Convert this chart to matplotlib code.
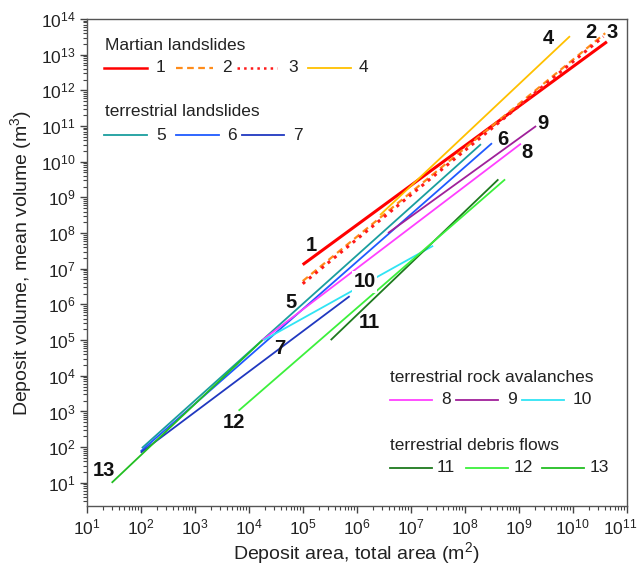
import matplotlib
matplotlib.use("Agg")
import matplotlib.pyplot as plt
import matplotlib.transforms as mtransforms
import numpy as np

plt.rcParams['font.family'] = ['Liberation Sans', 'DejaVu Sans']
plt.rcParams['mathtext.fontset'] = 'custom'
plt.rcParams['mathtext.rm'] = 'Liberation Sans'
plt.rcParams['mathtext.it'] = 'Liberation Sans:italic'
plt.rcParams['mathtext.bf'] = 'Liberation Sans:bold'

# ---- data (power-law fit lines: start/end points) ----
series_ids = ['1', '2', '3', '4', '5', '6', '7', '8', '9', '10', '11', '12', '13']
x_start = [1.0e5, 1.0e5, 1.0e5, 2.7e6, 1.05e2, 1.0e2, 1.0e2, 1.8e4, 3.8e6, 1.9e4, 3.3e5, 6.5e3, 29]
x_end   = [4.3e10, 4.0e10, 3.7e10, 8.9e9, 2.0e8, 3.2e8, 7.4e5, 1.1e9, 2.1e9, 2.6e7, 4.2e8, 5.6e8, 1.8e4]
y_start = [1.3e7, 4.5e6, 3.8e6, 3.2e8, 9.4e1, 7.6e1, 7.0e1, 1.0e5, 1.0e8, 1.0e5, 1.0e5, 1.05e3, 10]
y_end   = [2.3e13, 4.0e13, 3.2e13, 3.3e13, 3.1e10, 3.3e10, 1.7e6, 3.2e10, 1.0e11, 4.4e7, 3.2e9, 3.2e9, 1.0e5]

colors = ['#FF0000', '#FF8C1A', '#FF1A1A', '#FFC000', '#1A9E9E', '#1F5AFF', '#2038C0',
          '#FF40FF', '#A0209A', '#30E4F4', '#1E7A1E', '#3CF03C', '#22BE22']
styles = ['-', (0, (3, 2)), ':', '-', '-', '-', '-', '-', '-', '-', '-', '-', '-']
widths = [2.2, 1.6, 2.2, 1.3, 1.3, 1.3, 1.3, 1.3, 1.3, 1.3, 1.3, 1.3, 1.3]

# label positions in data coordinates for series numbers on plot
label_x = [1.43e5, 2.2e10, 5.4e10, 3.5e9, 6.0e4, 5.1e8, 3.8e4, 1.4e9, 2.8e9, 1.4e6, 1.7e6, 5.4e3, 2.1e1]
label_y = [4.4e7, 4.3e13, 4.1e13, 2.8e13, 1.1e6, 4.1e10, 6.0e4, 1.8e10, 1.2e11, 4.3e6, 3.2e5, 4.8e2, 2.2e1]

groups = [("Martian landslides", ['1', '2', '3', '4']),
          ("terrestrial landslides", ['5', '6', '7']),
          ("terrestrial rock avalanches", ['8', '9', '10']),
          ("terrestrial debris flows", ['11', '12', '13'])]

# ---- figure ----
W, H = 642, 566
fig = plt.figure(figsize=(W / 100, H / 100), dpi=100)
L, R, T, B = 86.7, 626.7, 19.0, 506.0
ax = fig.add_axes([L / W, 1 - B / H, (R - L) / W, (B - T) / H])
ax.set_xscale('log')
ax.set_yscale('log')
ax.set_xlim(1e1, 1e11)
ax.set_ylim(10 ** 0.35, 1e14)

order = [12, 11, 10, 6, 5, 4, 9, 7, 8, 3, 0, 1, 2]
for i in order:
    ax.plot([x_start[i], x_end[i]], [y_start[i], y_end[i]], color=colors[i],
            linestyle=styles[i], linewidth=widths[i], solid_capstyle='butt', zorder=2 + i * 0.01)

for i, s in enumerate(series_ids):
    kw = {}
    if s == '10':
        kw = dict(bbox=dict(facecolor='white', edgecolor='none', pad=1.0))
    ax.text(label_x[i], label_y[i], s, fontsize=14.5, fontweight='bold', color='#111111',
            ha='center', va='center', zorder=5, **kw)

# ---- legend blocks (drawn in axes fraction) ----
def fx(px):
    return (px - L) / (R - L)

def fy(py):
    return (B - py) / (B - T)

txtc = '#222222'
legend_layout = [
    (105, 45, 68, [(104, 147, 156), (176, 213, 222), (237, 277, 288), (308, 351, 359)]),
    (105, 111, 135, [(104, 147, 156), (176, 219, 227), (242, 284, 293)]),
    (390, 377, 400, [(390, 432, 441), (456, 498, 507), (522, 564, 573)]),
    (390, 445, 468, [(390, 432, 437), (466, 508, 514), (542, 584, 590)]),
]
for (title, ids), (tx, ty, ry, items) in zip(groups, legend_layout):
    ax.text(fx(tx), fy(ty), title, transform=ax.transAxes, fontsize=12.5, color=txtc,
            ha='left', va='center')
    for s, (x0, x1, xt) in zip(ids, items):
        i = series_ids.index(s)
        ax.plot([fx(x0), fx(x1)], [fy(ry), fy(ry)], transform=ax.transAxes, color=colors[i],
                linestyle=styles[i], linewidth=min(widths[i], 1.8), clip_on=False)
        ax.text(fx(xt), fy(ry), s, transform=ax.transAxes, fontsize=12.5, color=txtc,
                ha='left', va='center')

# ---- axes styling ----
ax.set_xticks([10.0 ** k for k in range(1, 12)])
ax.set_yticks([10.0 ** k for k in range(1, 15)])
ax.xaxis.set_minor_locator(matplotlib.ticker.LogLocator(base=10, subs=np.arange(2, 10), numticks=100))
ax.yaxis.set_minor_locator(matplotlib.ticker.LogLocator(base=10, subs=np.arange(2, 10), numticks=100))
ax.xaxis.set_minor_formatter(matplotlib.ticker.NullFormatter())
ax.yaxis.set_minor_formatter(matplotlib.ticker.NullFormatter())
ax.tick_params(which='major', length=5, width=1, color='#444444', labelsize=12.5, labelcolor=txtc, pad=3)
ax.tick_params(which='minor', length=3, width=0.8, color='#444444')
for sp in ax.spines.values():
    sp.set_color('#555555')
    sp.set_linewidth(1.0)

ax.set_xlabel('Deposit area, total area (m$^2$)', fontsize=14, color=txtc, labelpad=2)
ax.set_ylabel('Deposit volume, mean volume (m$^3$)', fontsize=14, color=txtc, labelpad=5)

# keep the last x tick label inside the figure
fig.canvas.draw()
last = ax.get_xticklabels()[-1]
last.set_transform(last.get_transform() + mtransforms.ScaledTranslation(-6 / 100, 0, fig.dpi_scale_trans))

fig.savefig('out.png', dpi=100)
